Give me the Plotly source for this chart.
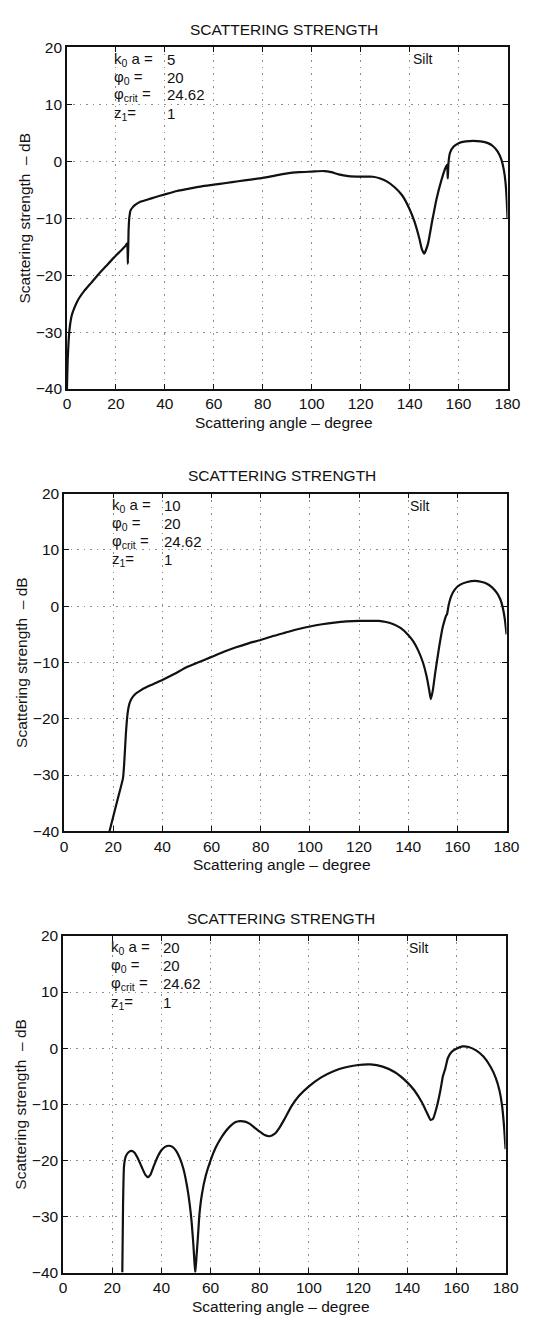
import plotly.graph_objects as go

# ---- data: scattering strength (dB) vs scattering angle (degree) ----
angle_ka5 = [0, 0.3, 0.7, 1.2, 2, 3, 4, 5, 7, 10, 13, 16, 19, 22, 24, 24.6, 24.9, 25.2,
             25.5, 26, 27, 28, 30, 33, 36, 40, 45, 50, 55, 60, 65, 70, 75, 80, 85, 90, 95,
             100, 105, 108, 111, 115, 120, 125, 128, 131, 134, 137, 140, 142, 144, 145, 146,
             147.5, 149, 151, 153, 154.5, 155.3, 155.6, 155.9, 156.5, 158, 160, 163, 166,
             169, 172, 174, 176, 177.5, 178.5, 179.2, 179.7, 180]
ss_ka5 = [-40, -35, -31.5, -29, -27, -25.8, -24.8, -24, -22.8, -21.3, -19.8, -18.4, -17,
          -15.7, -14.8, -14.4, -18, -12, -9.8, -8.6, -8.0, -7.6, -7.1, -6.7, -6.3, -5.8,
          -5.2, -4.8, -4.4, -4.1, -3.8, -3.5, -3.2, -2.9, -2.5, -2.1, -1.9, -1.8, -1.7,
          -1.9, -2.3, -2.6, -2.7, -2.7, -3.0, -3.6, -4.6, -6.0, -8.4, -10.6, -13.6, -15.4,
          -16.2, -14.5, -11.0, -6.6, -3.3, -1.3, -0.6, -3.0, -0.2, 1.5, 2.6, 3.2, 3.5,
          3.6, 3.5, 3.2, 2.7, 1.7, 0.3, -1.5, -3.8, -7.0, -10]

angle_ka10 = [18.5, 20, 22, 24, 24.6, 25.2, 25.9, 26.6, 27.5, 29, 31, 33, 36, 40, 45, 50,
              55, 60, 65, 70, 75, 80, 85, 90, 95, 100, 105, 110, 115, 120, 125, 128, 131,
              134, 137, 140, 142, 144, 146, 147.5, 148.5, 149.2, 150, 151, 152.5, 154,
              155, 155.4, 155.8, 156.5, 157.5, 159, 161, 164, 167, 170, 172, 174, 176,
              177.5, 178.5, 179.3, 180]
ss_ka10 = [-40, -37.4, -34, -30.5, -27, -22.4, -18.9, -17.3, -16.4, -15.6, -15.0, -14.5,
           -13.9, -13.1, -12.0, -10.8, -9.9, -9.0, -8.1, -7.3, -6.6, -6.0, -5.3, -4.7,
           -4.1, -3.6, -3.2, -2.9, -2.7, -2.6, -2.6, -2.6, -2.8, -3.2, -3.9, -5.1, -6.2,
           -7.8, -10.0, -12.5, -14.8, -16.5, -15.0, -11.8, -7.5, -3.8, -2.2, -1.7, -1.4,
           0.3, 1.8, 3.0, 3.8, 4.3, 4.5, 4.3, 4.0, 3.4, 2.4, 1.2, -0.3, -2.3, -5]

angle_ka20 = [24.1, 24.4, 24.8, 25.5, 26.5, 27.8, 29, 30.5, 32, 33.5, 34.5, 35.5, 37, 38.5,
              40, 41.5, 43, 44.5, 46, 47.5, 49, 50.5, 51.5, 52.3, 53, 53.5, 53.8, 54.3,
              54.8, 55.5, 56.5, 58, 60, 62, 64, 66, 68, 70, 72, 74, 76, 78, 80, 82, 84, 86,
              88, 90, 93, 96, 100, 105, 110, 115, 120, 125, 130, 135, 140, 143, 146, 148,
              149.5, 150.5, 152, 153.5, 154.5, 155, 155.5, 156.5, 158, 160, 162.5, 165,
              168, 171, 174, 176, 177.5, 178.5, 179.3, 180]
ss_ka20 = [-40, -28, -21, -19.3, -18.6, -18.3, -18.6, -19.7, -21.2, -22.6, -23.0, -22.6,
           -20.9, -19.3, -18.2, -17.6, -17.4, -17.6, -18.3, -19.6, -21.6, -24.8, -27.8,
           -31, -35, -38.5, -40, -37, -34, -29.5, -26, -22.8, -20.0, -17.8, -16.2, -14.9,
           -13.9, -13.2, -13.0, -13.1, -13.5, -14.2, -14.9, -15.5, -15.7, -15.3, -14.2,
           -12.7, -10.3, -8.5, -6.8, -5.2, -4.1, -3.4, -3.0, -2.9, -3.3, -4.3, -6.1, -7.6,
           -9.7, -11.5, -12.8, -12.6, -10.5, -7.5, -5.0, -4.3, -3.6, -1.8, -0.7, -0.1,
           0.3, 0.2, -0.4, -1.5, -3.4, -5.3, -7.5, -10.0, -13.5, -18]

ka_values = ["5", "10", "20"]
phi0 = "20"
phi_crit = "24.62"
z1 = "1"
sediment = "Silt"

x_ticks = [0, 20, 40, 60, 80, 100, 120, 140, 160, 180]
y_ticks = [20, 10, 0, -10, -20, -30, -40]

title_text = "SCATTERING STRENGTH"
x_title = "Scattering angle – degree"
y_title = "Scattering strength  – dB"

# ---- page geometry (pixels) ----
W, H = 536, 1323
FONT = "Liberation Sans, Arial, Helvetica, sans-serif"
INK = "#111111"

# plot box of each panel: (left, right, top, bottom) in pixels
boxes = [(65, 520, 39, 385), (62, 519, 491, 833), (61, 518, 939, 1280)]
series = [(angle_ka5, ss_ka5), (angle_ka10, ss_ka10), (angle_ka20, ss_ka20)]


def px(x):
    return x / W


def py(y):
    return 1 - y / H


def note(text, x, y, size=15, xanchor="left", angle=0):
    return dict(text=text, x=px(x), y=py(y), xref="paper", yref="paper",
                showarrow=False, xanchor=xanchor, yanchor="middle", textangle=angle,
                font=dict(family=FONT, size=size, color=INK))


fig = go.Figure()
annotations = []

for i, ((l, r, t, b), (xs, ys), ka) in enumerate(zip(boxes, series, ka_values)):
    n = "" if i == 0 else str(i + 1)
    fig.add_trace(go.Scatter(
        x=xs, y=ys, mode="lines",
        line=dict(color=INK, width=2.2, shape="spline", smoothing=0.5),
        xaxis="x" + n, yaxis="y" + n, showlegend=False, cliponaxis=True,
    ))
    common = dict(
        showgrid=True, gridcolor="#8c8c8c", griddash="1.5px,5px", gridwidth=1.2,
        showline=True, linecolor=INK, linewidth=1.6, mirror="ticks",
        ticks="inside", ticklen=5, tickwidth=1.2, tickcolor=INK,
        zeroline=False, tickfont=dict(family=FONT, size=15.5, color=INK),
        fixedrange=True,
    )
    fig.update_layout({
        "xaxis" + n: dict(common, domain=[px(l), px(r)], range=[0, 180],
                          tickvals=x_ticks, ticktext=[str(v) for v in x_ticks],
                          anchor="y" + n),
        "yaxis" + n: dict(common, domain=[py(b), py(t)], range=[-40, 20],
                          tickvals=y_ticks, anchor="x" + n),
    })

    cx = (l + r) / 2
    # panel title and axis titles
    annotations.append(note(title_text, cx - 3, t - 18, size=15.5, xanchor="center"))
    annotations.append(note(x_title, cx - 3, b + 34, size=15.5, xanchor="center"))
    annotations.append(note(y_title, l - 44, (t + b) / 2, size=15.5, xanchor="center",
                            angle=-90))

    # parameter block in the upper-left corner
    labels = ["k<sub>0</sub> a =", "φ<sub>0</sub> =", "φ<sub>crit</sub> =", "z<sub>1</sub>="]
    values = [ka, phi0, phi_crit, z1]
    rows = [t + 12, t + 30, t + 48, t + 67]
    for lab, val, ry in zip(labels, values, rows):
        annotations.append(note(lab, l + 47, ry))
        annotations.append(note(val, l + 101, ry))
    annotations.append(note(sediment, l + 355, t + 12, size=14))

fig.update_layout(
    width=W, height=H, autosize=False,
    margin=dict(l=0, r=0, t=0, b=0),
    paper_bgcolor="white", plot_bgcolor="white",
    annotations=annotations,
)

fig.write_html("out.html", include_plotlyjs=True, config={"displayModeBar": False})
